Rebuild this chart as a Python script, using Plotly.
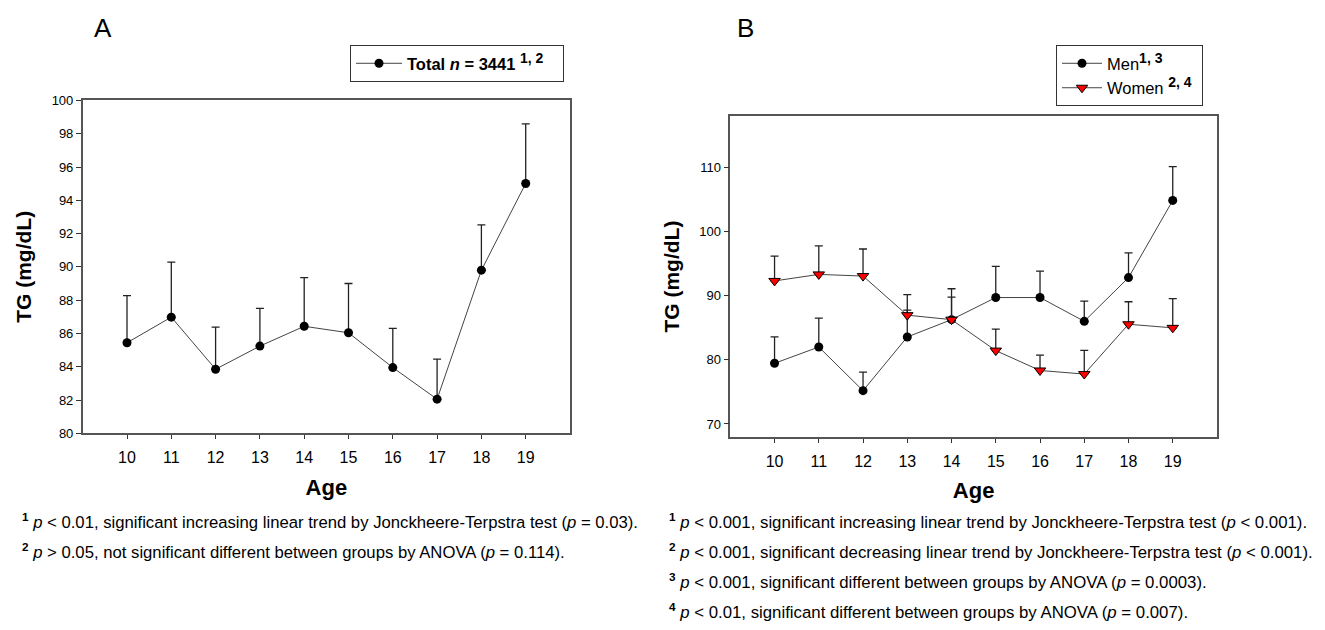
import plotly.graph_objects as go

ages = [10, 11, 12, 13, 14, 15, 16, 17, 18, 19]

# Panel A: total
total_mean = [85.44, 86.98, 83.85, 85.24, 86.43, 86.04, 83.95, 82.05, 89.80, 95.01]
total_sem = [2.83, 3.31, 2.53, 2.27, 2.92, 2.96, 2.35, 2.41, 2.72, 3.58]

# Panel B: men / women
men_mean = [79.47, 82.01, 75.20, 83.58, 86.28, 89.73, 89.73, 86.02, 92.84, 104.88]
men_sem = [4.11, 4.51, 2.90, 4.20, 4.82, 4.87, 4.11, 3.16, 3.85, 5.27]
women_mean = [92.32, 93.34, 93.08, 86.98, 86.28, 81.45, 78.35, 77.79, 85.56, 85.00]
women_sem = [3.87, 4.46, 4.22, 3.20, 3.51, 3.35, 2.38, 3.71, 3.51, 4.57]

yticks_a = [80, 82, 84, 86, 88, 90, 92, 94, 96, 98, 100]
yticks_b = [70, 80, 90, 100, 110]

FONT = "Liberation Sans, Arial, sans-serif"
W, H = 1325, 630

fig = go.Figure()

def err(v):
    return dict(type="data", symmetric=False, array=v, arrayminus=[0] * len(v),
                color="#222", thickness=1.3, width=4)

fig.add_trace(go.Scatter(
    x=ages, y=total_mean, mode="lines+markers", xaxis="x", yaxis="y",
    line=dict(color="#444", width=1),
    marker=dict(symbol="circle", size=9, color="black"),
    error_y=err(total_sem),
    name="<b>Total <i>n</i> = 3441 <sup><span style='font-size:14px'>1, 2</span></sup></b>&#160;&#160;&#160;",
    legend="legend"))

fig.add_trace(go.Scatter(
    x=ages, y=men_mean, mode="lines+markers", xaxis="x2", yaxis="y2",
    line=dict(color="#444", width=1),
    marker=dict(symbol="circle", size=9, color="black"),
    error_y=err(men_sem),
    name="Men<b><sup><span style='font-size:14px'>1, 3</span></sup></b>", legend="legend2"))

fig.add_trace(go.Scatter(
    x=ages, y=women_mean, mode="lines+markers", xaxis="x2", yaxis="y2",
    line=dict(color="#444", width=1),
    marker=dict(symbol="triangle-down", size=10, color="red",
                line=dict(color="black", width=1)),
    error_y=err(women_sem),
    name="Women <b><sup><span style='font-size:14px'>2, 4</span></sup></b>&#160;",
    legend="legend2"))

axis_common = dict(showline=True, linecolor="#555", linewidth=1.5, mirror=True,
                   showgrid=False, zeroline=False, ticks="outside",
                   tickcolor="#333", tickwidth=1)

xcommon = dict(range=[9, 20], tickvals=ages, ticklen=4, tickfont=dict(size=16),
               ticklabelstandoff=5,
               title=dict(text="<b>Age</b>", font=dict(size=22), standoff=14),
               **axis_common)
ycommon = dict(ticklen=5, tickfont=dict(size=13),
               title=dict(text="<b>TG (mg/dL)</b>", font=dict(size=21), standoff=14),
               **axis_common)

fig.update_layout(
    width=W, height=H, margin=dict(l=0, r=0, t=0, b=0),
    paper_bgcolor="white", plot_bgcolor="white",
    font=dict(family=FONT, color="black"),
    xaxis=dict(domain=[82.7 / W, 570 / W], anchor="y", **xcommon),
    yaxis=dict(domain=[1 - 436.7 / H, 1 - 95.7 / H], range=[80, 100], tickvals=yticks_a,
               anchor="x", **ycommon),
    xaxis2=dict(domain=[730.3 / W, 1217 / W], anchor="y2", **xcommon),
    yaxis2=dict(domain=[1 - 440.3 / H, 1 - 112 / H], range=[68, 118], tickvals=yticks_b,
                anchor="x2", **ycommon),
    legend=dict(x=350 / W, y=1 - 39 / H, xanchor="left", yanchor="top",
                bordercolor="#333", borderwidth=1, bgcolor="white",
                font=dict(size=16.5, family=FONT), itemwidth=46),
    legend2=dict(x=1056 / W, y=1 - 39 / H, xanchor="left", yanchor="top",
                 bordercolor="#333", borderwidth=1, bgcolor="white",
                 font=dict(size=16.5, family=FONT), itemwidth=40,
                 tracegroupgap=0),
    showlegend=True,
)

annotations = [
    dict(text="A", x=103 / W, y=1 - 22 / H, font=dict(size=26)),
    dict(text="B", x=745 / W, y=1 - 22 / H, font=dict(size=26)),
]
foot_left = [
    "<b><sup>1</sup></b> <i>p</i> &lt; 0.01, significant increasing linear trend by Jonckheere-Terpstra test (<i>p</i> = 0.03).",
    "<b><sup>2</sup></b> <i>p</i> &gt; 0.05, not significant different between groups by ANOVA (<i>p</i> = 0.114).",
]
foot_right = [
    "<b><sup>1</sup></b> <i>p</i> &lt; 0.001, significant increasing linear trend by Jonckheere-Terpstra test (<i>p</i> &lt; 0.001).",
    "<b><sup>2</sup></b> <i>p</i> &lt; 0.001, significant decreasing linear trend by Jonckheere-Terpstra test (<i>p</i> &lt; 0.001).",
    "<b><sup>3</sup></b> <i>p</i> &lt; 0.001, significant different between groups by ANOVA (<i>p</i> = 0.0003).",
    "<b><sup>4</sup></b> <i>p</i> &lt; 0.01, significant different between groups by ANOVA (<i>p</i> = 0.007).",
]
for i, t in enumerate(foot_left):
    annotations.append(dict(text=t, x=20 / W, y=1 - (527 + 30 * i) / H, xanchor="left",
                            font=dict(size=16.7)))
for i, t in enumerate(foot_right):
    annotations.append(dict(text=t, x=667 / W, y=1 - (527 + 30.5 * i) / H, xanchor="left",
                            font=dict(size=16.8)))
for a in annotations:
    a.setdefault("xanchor", "center")
    a.update(xref="paper", yref="paper", yanchor="middle", showarrow=False)
    a["font"].setdefault("family", FONT)
    a["font"].setdefault("color", "black")
fig.update_layout(annotations=annotations)

fig.write_html("out.html")
